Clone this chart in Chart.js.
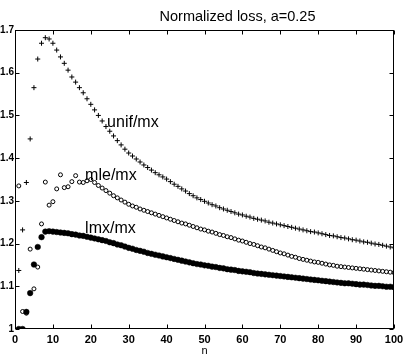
<!DOCTYPE html>
<html><head><meta charset="utf-8">
<script src="https://cdn.jsdelivr.net/npm/chart.js@4/dist/chart.umd.min.js"></script>
<style>html,body{margin:0;padding:0;background:#fff;overflow:hidden}</style>
</head><body>
<canvas id="c" width="409" height="360"></canvas>
<script>
const titleText = 'Normalized loss, a=0.25';
const xTickValues = [0,10,20,30,40,50,60,70,80,90,100];
const yTickValues = [1,1.1,1.2,1.3,1.4,1.5,1.6,1.7];
const n = [1,2,3,4,5,6,7,8,9,10,11,12,13,14,15,16,17,18,19,20,21,22,23,24,25,26,27,28,29,30,31,32,33,34,35,36,37,38,39,40,41,42,43,44,45,46,47,48,49,50,51,52,53,54,55,56,57,58,59,60,61,62,63,64,65,66,67,68,69,70,71,72,73,74,75,76,77,78,79,80,81,82,83,84,85,86,87,88,89,90,91,92,93,94,95,96,97,98,99,100];
const unifMx = [1.137,1.232,1.343,1.445,1.565,1.632,1.669,1.682,1.679,1.669,1.653,1.637,1.622,1.606,1.590,1.578,1.565,1.553,1.539,1.526,1.513,1.500,1.487,1.474,1.463,1.452,1.441,1.431,1.421,1.412,1.405,1.398,1.391,1.384,1.378,1.372,1.366,1.361,1.356,1.351,1.345,1.339,1.334,1.328,1.323,1.317,1.312,1.307,1.303,1.299,1.295,1.291,1.288,1.284,1.281,1.278,1.275,1.272,1.269,1.267,1.264,1.262,1.259,1.257,1.255,1.253,1.250,1.248,1.246,1.244,1.242,1.240,1.238,1.236,1.234,1.232,1.230,1.228,1.227,1.225,1.223,1.221,1.219,1.218,1.216,1.214,1.213,1.211,1.209,1.208,1.206,1.204,1.203,1.201,1.199,1.198,1.196,1.194,1.192,1.190];
const mleMx = [1.335,1.041,1.037,1.187,1.094,1.145,1.246,1.344,1.290,1.298,1.328,1.361,1.331,1.333,1.345,1.359,1.344,1.343,1.347,1.350,1.343,1.336,1.330,1.324,1.318,1.312,1.307,1.302,1.297,1.292,1.288,1.285,1.281,1.278,1.275,1.272,1.269,1.266,1.263,1.260,1.257,1.254,1.251,1.248,1.246,1.243,1.240,1.237,1.234,1.232,1.229,1.227,1.224,1.221,1.219,1.216,1.214,1.211,1.208,1.206,1.203,1.200,1.198,1.195,1.192,1.190,1.187,1.184,1.181,1.178,1.176,1.173,1.170,1.168,1.165,1.163,1.161,1.159,1.157,1.156,1.154,1.152,1.150,1.149,1.147,1.146,1.145,1.144,1.143,1.142,1.141,1.140,1.139,1.138,1.137,1.136,1.135,1.134,1.133,1.132];
const lmxMx = [1.000,1.000,1.040,1.084,1.151,1.192,1.215,1.228,1.229,1.228,1.227,1.226,1.225,1.224,1.222,1.221,1.219,1.218,1.216,1.214,1.212,1.210,1.208,1.206,1.203,1.201,1.198,1.196,1.193,1.190,1.188,1.185,1.183,1.181,1.178,1.176,1.174,1.172,1.170,1.168,1.166,1.164,1.162,1.160,1.158,1.156,1.154,1.152,1.151,1.149,1.148,1.146,1.145,1.143,1.142,1.140,1.139,1.138,1.136,1.135,1.134,1.133,1.131,1.130,1.129,1.128,1.127,1.126,1.125,1.124,1.123,1.122,1.121,1.120,1.119,1.118,1.117,1.116,1.115,1.114,1.113,1.112,1.111,1.110,1.109,1.108,1.107,1.107,1.106,1.105,1.104,1.104,1.103,1.102,1.101,1.101,1.100,1.099,1.099,1.098];
const seriesLabels = [
  {text:'unif/mx', x:24.3, y:1.473},
  {text:'mle/mx', x:18.5, y:1.349},
  {text:'lmx/mx', x:18.5, y:1.224}
];

const toPts = ys => n.map((v,i)=>({x:v, y:ys[i]}));
const FONT = "'Liberation Sans', Arial, Helvetica, sans-serif";

const framePlugin = {
  id:'frame',
  beforeDatasetsDraw(chart){
    const {ctx, chartArea:a, scales:{x,y}} = chart;
    ctx.save();
    ctx.strokeStyle = '#000';
    ctx.lineWidth = 1;
    const L = Math.round(a.left)+0.5, R = Math.round(a.right)-0.5, T = Math.round(a.top)+0.5, B = Math.round(a.bottom)-0.5;
    ctx.strokeRect(L, T, R-L, B-T);
    const tl = 4;
    ctx.beginPath();
    x.ticks.forEach(t=>{
      const px = Math.round(x.getPixelForValue(t.value))+0.5;
      ctx.moveTo(px,B); ctx.lineTo(px,B-tl);
      ctx.moveTo(px,T); ctx.lineTo(px,T+tl);
    });
    y.ticks.forEach(t=>{
      const py = Math.round(y.getPixelForValue(t.value))+0.5;
      ctx.moveTo(L,py); ctx.lineTo(L+tl,py);
      ctx.moveTo(R,py); ctx.lineTo(R-tl,py);
    });
    ctx.stroke();
    ctx.restore();
  },
  afterDatasetsDraw(chart){
    const {ctx, scales:{x,y}} = chart;
    ctx.save();
    ctx.fillStyle = '#000';
    ctx.textBaseline = 'alphabetic';
    ctx.textAlign = 'center';
    ctx.font = '14.5px ' + FONT;
    ctx.fillText(titleText, 237.5, 21);
    ctx.textAlign = 'left';
    ctx.font = '16px ' + FONT;
    seriesLabels.forEach(l=>{
      ctx.fillText(l.text, x.getPixelForValue(l.x), y.getPixelForValue(l.y));
    });
    ctx.restore();
  }
};

new Chart(document.getElementById('c'), {
  type: 'scatter',
  data: {
    datasets: [
      {label:'lmx/mx', data: toPts(lmxMx), pointStyle:'circle', pointRadius:2.8, backgroundColor:'#000', borderColor:'#000', borderWidth:0.5, showLine:false},
      {label:'mle/mx', data: toPts(mleMx), pointStyle:'circle', pointRadius:2.0, backgroundColor:'rgba(0,0,0,0)', borderColor:'#000', borderWidth:1, showLine:false},
      {label:'unif/mx', data: toPts(unifMx), pointStyle:'cross', pointRadius:2.5, backgroundColor:'#000', borderColor:'#000', borderWidth:1, showLine:false}
    ]
  },
  options: {
    responsive:false, animation:false, devicePixelRatio:1,
    layout:{padding:{top:30, right:15, left:0, bottom:0}},
    plugins:{legend:{display:false}, tooltip:{enabled:false}, title:{display:false}},
    scales:{
      x:{type:'linear', min:0, max:100,
        grid:{display:false, drawTicks:false}, border:{display:false},
        afterBuildTicks(s){ s.ticks = xTickValues.map(v=>({value:v})); },
        ticks:{padding:4, font:{family:FONT, size:11, weight:'bold'}, color:'#000', maxRotation:0, autoSkip:false,
          callback:v=>String(v)},
        title:{display:true, text:'n', color:'#000', font:{family:FONT, size:11}, padding:{top:0, bottom:2}},
        afterFit(s){ s.height = 31; }
      },
      y:{type:'linear', min:1, max:1.7,
        grid:{display:false, drawTicks:false}, border:{display:false},
        afterBuildTicks(s){ s.ticks = yTickValues.map(v=>({value:v})); },
        ticks:{padding:1, font:{family:FONT, size:10, weight:'bold'}, color:'#000', autoSkip:false,
          callback:v=>String(Number(v.toFixed(1)))},
        afterFit(s){ s.width = 15; }
      }
    }
  },
  plugins:[framePlugin]
});
</script>
</body></html>
